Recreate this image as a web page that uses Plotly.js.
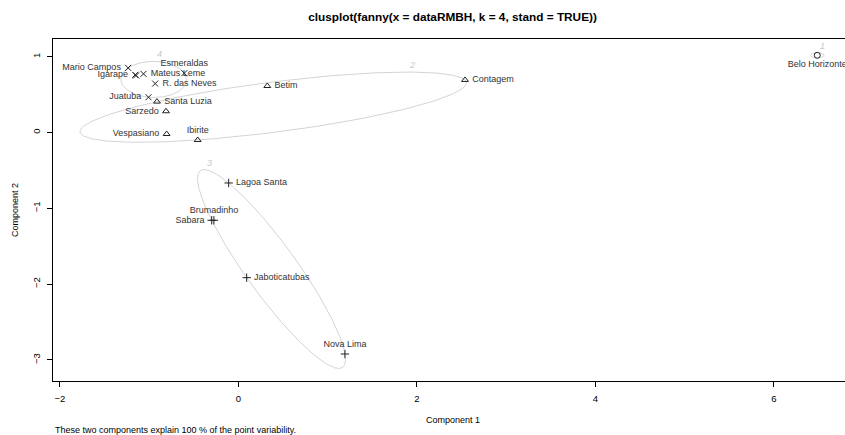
<!DOCTYPE html>
<html><head><meta charset="utf-8">
<script src="https://cdn.plot.ly/plotly-3.0.1.min.js"></script>
<style>html,body{margin:0;padding:0;overflow:hidden;background:#fff}</style>
</head><body><div id="chart" style="width:860px;height:435px"></div>
<script>
// ---- data ----
const names = ["Belo Horizonte",
  "Santa Luzia","Sarzedo","Vespasiano","Ibirite","Betim","Contagem",
  "Lagoa Santa","Sabara","Brumadinho","Jaboticatubas","Nova Lima",
  "Mario Campos","Igarape","","Mateus Leme","Esmeraldas","R. das Neves","Juatuba"];
const comp1 = [6.485,
  -0.913,-0.812,-0.805,-0.457,0.323,2.538,
  -0.110,-0.300,-0.275,0.092,1.193,
  -1.236,-1.157,-1.147,-1.064,-0.607,-0.933,-1.008];
const comp2 = [1.018,
  0.407,0.280,-0.020,-0.099,0.613,0.693,
  -0.666,-1.158,-1.158,-1.915,-2.922,
  0.852,0.760,0.752,0.773,0.782,0.645,0.465];
const cluster = [1,
  2,2,2,2,2,2,
  3,3,3,3,3,
  4,4,4,4,4,4,4];
const clusterIds = [1,2,3,4];
const footer = "These two components explain 100 % of the point variability.";

// ---- styles ----
const labelPos = ["bottom center",
  "middle right","middle left","middle left","top center","middle right","middle right",
  "middle right","middle left","top center","middle right","top center",
  "middle left","middle left","middle left","middle right","top center","middle right","middle left"];
const symbols = {1:"circle-open",2:"triangle-up-open",3:"cross-thin-open",4:"x-thin-open"};
const FONT = "Liberation Sans, Arial, Helvetica, sans-serif";
const singleRad = [0.075, 0.035];
const NB = "\u00a0";

// ---- minimum volume enclosing ellipse (Khachiyan) ----
function inv3(m){
  const [a,b,c]=m[0],[d,e,f]=m[1],[g,h,i]=m[2];
  const A=e*i-f*h,B=-(d*i-f*g),C=d*h-e*g;
  const det=a*A+b*B+c*C;
  return [[A/det,-(b*i-c*h)/det,(b*f-c*e)/det],
          [B/det,(a*i-c*g)/det,-(a*f-c*d)/det],
          [C/det,-(a*h-b*g)/det,(a*e-b*d)/det]];
}
function mvee(pts){
  const N=pts.length, d=2;
  let u=new Array(N).fill(1/N);
  for(let it=0;it<20000;it++){
    const X=[[0,0,0],[0,0,0],[0,0,0]];
    pts.forEach((p,k)=>{const q=[p[0],p[1],1];
      for(let r=0;r<3;r++)for(let s=0;s<3;s++)X[r][s]+=u[k]*q[r]*q[s];});
    const Xi=inv3(X);
    let j=0,mx=-Infinity;
    pts.forEach((p,k)=>{const q=[p[0],p[1],1];let v=0;
      for(let r=0;r<3;r++)for(let s=0;s<3;s++)v+=q[r]*Xi[r][s]*q[s];
      if(v>mx){mx=v;j=k;}});
    const step=(mx-d-1)/((d+1)*(mx-1));
    const nu=u.map(x=>x*(1-step)); nu[j]+=step;
    let diff=0; nu.forEach((x,k)=>diff+=(x-u[k])**2);
    u=nu; if(Math.sqrt(diff)<1e-9)break;
  }
  let cx=0,cy=0; pts.forEach((p,k)=>{cx+=u[k]*p[0];cy+=u[k]*p[1];});
  let sxx=0,sxy=0,syy=0;
  pts.forEach((p,k)=>{sxx+=u[k]*p[0]*p[0];sxy+=u[k]*p[0]*p[1];syy+=u[k]*p[1]*p[1];});
  sxx=d*(sxx-cx*cx); sxy=d*(sxy-cx*cy); syy=d*(syy-cy*cy);
  return {cx,cy,sxx,sxy,syy};
}
function ellipsePts(e){
  const l11=Math.sqrt(e.sxx), l21=e.sxy/l11, l22=Math.sqrt(Math.max(e.syy-l21*l21,0));
  const xs=[],ys=[];
  for(let k=0;k<=240;k++){const t=2*Math.PI*k/240,c=Math.cos(t),s=Math.sin(t);
    xs.push(e.cx+l11*c); ys.push(e.cy+l21*c+l22*s);}
  return {xs,ys};
}
function padLabel(i){
  const p=labelPos[i];
  if(p.endsWith("right")) return NB+names[i];
  if(p.endsWith("left")) return names[i]+NB;
  return names[i];
}

const traces=[], annotations=[];
clusterIds.forEach(cid=>{
  const idx=cluster.map((c,i)=>c===cid?i:-1).filter(i=>i>=0);
  const pts=idx.map(i=>[comp1[i],comp2[i]]);
  let e;
  if(pts.length===1){
    e={cx:pts[0][0],cy:pts[0][1],sxx:singleRad[0]**2,sxy:0,syy:singleRad[1]**2};
  } else e=mvee(pts);
  const el=ellipsePts(e);
  traces.push({x:el.xs,y:el.ys,mode:"lines",type:"scatter",hoverinfo:"skip",
    line:{color:"#d4d4d4",width:1},showlegend:false});
  let k=el.ys.indexOf(Math.max(...el.ys));
  annotations.push({x:el.xs[k],y:el.ys[k],xref:"x",yref:"y",text:"<i>"+cid+"</i>",
    showarrow:false,xanchor:"left",yanchor:"bottom",xshift:1,yshift:0,
    font:{family:FONT,size:9,color:"#c8c8c8"}});
});
clusterIds.forEach(cid=>{
  const idx=cluster.map((c,i)=>c===cid?i:-1).filter(i=>i>=0);
  traces.push({x:idx.map(i=>comp1[i]),y:idx.map(i=>comp2[i]),text:idx.map(i=>padLabel(i)),
    textposition:idx.map(i=>labelPos[i]),mode:"markers+text",type:"scatter",showlegend:false,
    marker:{symbol:symbols[cid],size:6,color:"#222",line:{color:"#222",width:1}},
    textfont:{family:FONT,size:9,color:"#333"},cliponaxis:true});
});

const W=860,H=435,L=53,R=8,T=39,B=54, PW=W-L-R, PH=H-T-B;
annotations.push({xref:"paper",yref:"paper",x:0.5,y:-(420-381)/PH,text:"Component 1",showarrow:false,
  xanchor:"center",yanchor:"middle",font:{family:FONT,size:9,color:"#000"}});
annotations.push({xref:"paper",yref:"paper",x:(15-L)/PW,y:0.5,text:"Component 2",showarrow:false,textangle:-90,
  xanchor:"center",yanchor:"middle",font:{family:FONT,size:9,color:"#000"}});
annotations.push({xref:"paper",yref:"paper",x:0,y:-(430-381)/PH,text:footer,showarrow:false,
  xanchor:"left",yanchor:"middle",font:{family:FONT,size:9,color:"#000"}});

const layout={width:W,height:H,margin:{l:L,r:R,t:T,b:B},paper_bgcolor:"#fff",plot_bgcolor:"#fff",
  title:{text:"<b>clusplot(fanny(x = dataRMBH, k = 4, stand = TRUE))</b>",x:0.5,xref:"paper",
    y:1-17/H,yref:"container",yanchor:"middle",font:{family:FONT,size:11.8,color:"#000"}},
  xaxis:{range:[-2.078,6.874],tickvals:[-2,0,2,4,6],showgrid:false,zeroline:false,showline:true,mirror:true,
    linecolor:"#000",linewidth:1,ticks:"outside",ticklen:5,tickcolor:"#000",tickwidth:1,ticklabelstandoff:4,
    tickfont:{family:FONT,size:9.5,color:"#000"}},
  yaxis:{range:[-3.278,1.233],tickvals:[-3,-2,-1,0,1],showgrid:false,zeroline:false,showline:true,mirror:true,
    linecolor:"#000",linewidth:1,ticks:"outside",ticklen:5,tickcolor:"#000",tickwidth:1,tickangle:-90,
    ticklabelstandoff:3,tickfont:{family:FONT,size:9.5,color:"#000"}},
  annotations:annotations,showlegend:false};
Plotly.newPlot("chart",traces,layout,{displayModeBar:false,staticPlot:true});
</script></body></html>
